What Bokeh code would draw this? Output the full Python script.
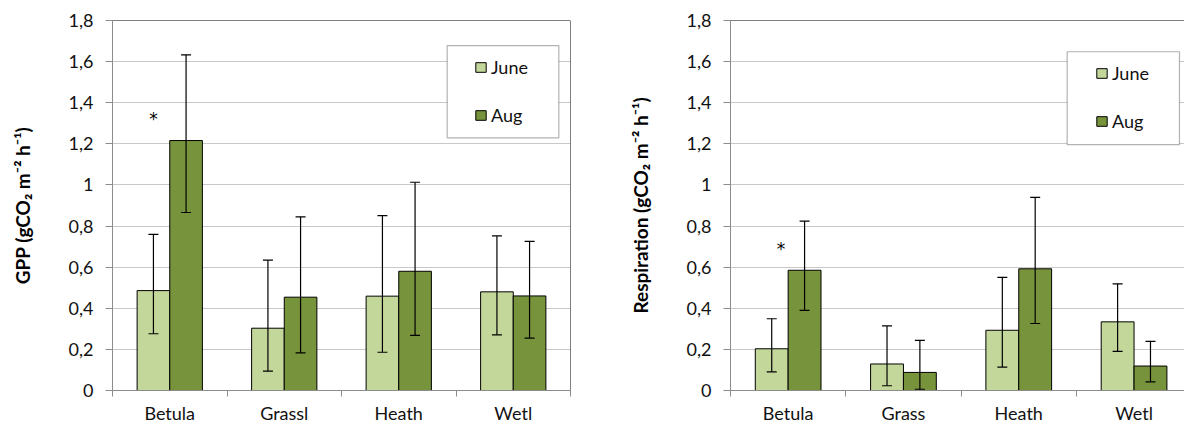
from bokeh.plotting import figure
from bokeh.models import (ColumnDataSource, FixedTicker, Whisker, TeeHead, Legend,
                          LegendItem, Span, BoxAnnotation)
from bokeh.layouts import row
from bokeh.embed import file_html
from bokeh.resources import INLINE
from bokeh.core.properties import value

# ---------------- data ----------------
categories_gpp = ["Betula", "Grassl", "Heath", "Wetl"]
categories_resp = ["Betula", "Grass", "Heath", "Wetl"]
series_names = ["June", "Aug"]

gpp_june = [0.486, 0.303, 0.459, 0.480]
gpp_june_lo = [0.276, 0.094, 0.186, 0.271]
gpp_june_hi = [0.760, 0.634, 0.851, 0.752]
gpp_aug = [1.216, 0.454, 0.580, 0.460]
gpp_aug_lo = [0.866, 0.183, 0.268, 0.255]
gpp_aug_hi = [1.633, 0.845, 1.013, 0.725]

resp_june = [0.203, 0.129, 0.293, 0.334]
resp_june_lo = [0.091, 0.023, 0.114, 0.190]
resp_june_hi = [0.349, 0.314, 0.550, 0.519]
resp_aug = [0.585, 0.088, 0.592, 0.119]
resp_aug_lo = [0.390, 0.006, 0.326, 0.042]
resp_aug_hi = [0.824, 0.244, 0.940, 0.239]

y_ticks = [0, 0.2, 0.4, 0.6, 0.8, 1, 1.2, 1.4, 1.6, 1.8]
y_tick_labels = ["0", "0,2", "0,4", "0,6", "0,8", "1", "1,2", "1,4", "1,6", "1,8"]

# significance markers: (category, value)
star_gpp = ("Betula", 1.32)
star_resp = ("Betula", 0.69)

# ---------------- style ----------------
FONT = "Lato"
C_JUNE = "#c4d79b"
C_AUG = "#77933c"
AXIS_C = "#8c8c8c"
GRID_C = "#c8c8c8"
BAR_W = 0.285


def build(cats, june, jlo, jhi, aug, alo, ahi, ylabel, x_end, width,
          b_left, b_right, b_bottom, x_standoff, legend_loc, box, star, star_dx):
    n = len(cats)
    centers = [i + 0.5 for i in range(n)]
    p = figure(width=width, height=426, x_range=(0, x_end), y_range=(0, 1.8),
               output_backend="svg", toolbar_location=None,
               min_border_left=b_left, min_border_right=b_right,
               min_border_top=20, min_border_bottom=b_bottom)
    p.outline_line_color = None
    p.background_fill_color = "white"
    p.border_fill_color = "white"

    src_j = ColumnDataSource(dict(x=[c - BAR_W / 2 for c in centers], top=june,
                                  lo=jlo, hi=jhi))
    src_a = ColumnDataSource(dict(x=[c + BAR_W / 2 for c in centers], top=aug,
                                  lo=alo, hi=ahi))
    rj = p.vbar(x="x", top="top", bottom=0, width=BAR_W, source=src_j,
                fill_color=C_JUNE, line_color="black", line_width=1)
    ra = p.vbar(x="x", top="top", bottom=0, width=BAR_W, source=src_a,
                fill_color=C_AUG, line_color="black", line_width=1)

    for src in (src_j, src_a):
        w = Whisker(source=src, base="x", upper="hi", lower="lo",
                    line_color="black", line_width=1.2, level="annotation",
                    upper_head=TeeHead(size=10, line_color="black", line_width=1.2),
                    lower_head=TeeHead(size=10, line_color="black", line_width=1.2))
        p.add_layout(w)

    # significance asterisk
    si = cats.index(star[0])
    p.text(x=[centers[si] - BAR_W / 2 + star_dx], y=[star[1]], text=["*"],
           text_font=value("DejaVu Sans"), text_font_size="17px", text_color="black",
           text_align="center", text_baseline="middle")

    # borders of the plot area (top, and right where visible)
    p.add_layout(Span(location=1.8, dimension="width", line_color="black", line_width=1))
    if x_end >= 4:
        p.add_layout(Span(location=4, dimension="height", line_color="black", line_width=1))

    # grid
    p.xgrid.visible = False
    p.ygrid.ticker = FixedTicker(ticks=y_ticks)
    p.ygrid.grid_line_color = GRID_C
    p.ygrid.grid_line_width = 1

    # y axis
    ya = p.yaxis[0]
    ya.ticker = FixedTicker(ticks=y_ticks)
    ya.major_label_overrides = {t: l for t, l in zip(y_ticks, y_tick_labels)}
    ya.axis_line_color = AXIS_C
    ya.major_tick_line_color = AXIS_C
    ya.major_tick_out = 7
    ya.major_tick_in = 0
    ya.minor_tick_line_color = None
    ya.major_label_standoff = 12
    ya.major_label_text_font = FONT
    ya.major_label_text_font_size = "18px"
    ya.major_label_text_color = "#111111"
    ya.axis_label = ylabel
    ya.axis_label_text_font = FONT
    ya.axis_label_text_font_size = "19px"
    ya.axis_label_text_font_style = "bold"
    ya.axis_label_text_color = "black"
    ya.axis_label_standoff = 32

    # x axis
    xa = p.xaxis[0]
    xa.axis_label = None
    xa.ticker = FixedTicker(ticks=centers, minor_ticks=list(range(n + 1)))
    xa.major_label_overrides = {c: name for c, name in zip(centers, cats)}
    xa.axis_line_color = AXIS_C
    xa.major_tick_line_color = None
    xa.major_tick_out = 0
    xa.major_tick_in = 0
    xa.minor_tick_line_color = AXIS_C
    xa.minor_tick_out = 6
    xa.minor_tick_in = 0
    xa.major_label_standoff = x_standoff
    xa.major_label_text_font = FONT
    xa.major_label_text_font_size = "18px"
    xa.major_label_text_color = "#111111"

    # legend frame and legend
    p.add_layout(BoxAnnotation(left=box[0], right=box[1], bottom=box[2], top=box[3],
                               fill_color="white", fill_alpha=1,
                               line_color="black", line_width=1.2,
                               level="annotation"))
    legend = Legend(items=[LegendItem(label=series_names[0], renderers=[rj]),
                           LegendItem(label=series_names[1], renderers=[ra])],
                    location=legend_loc, orientation="vertical",
                    padding=0, spacing=26, margin=0,
                    glyph_width=13, glyph_height=12, label_height=20,
                    label_standoff=4, border_line_color=None,
                    background_fill_alpha=0,
                    label_text_font=FONT, label_text_font_size="18px",
                    label_text_color="#111111")
    p.add_layout(legend, "center")
    return p


p1 = build(categories_gpp, gpp_june, gpp_june_lo, gpp_june_hi,
           gpp_aug, gpp_aug_lo, gpp_aug_hi,
           "GPP (gCO\u2082 m\u207b\u00b2 h\u207b\u00b9)",
           4, 590, 112, 20, 36, 5, (362, 264), (2.923, 3.898, 1.229, 1.678),
           star_gpp, 0.0)
p2 = build(categories_resp, resp_june, resp_june_lo, resp_june_hi,
           resp_aug, resp_aug_lo, resp_aug_hi,
           "Respiration (gCO\u2082 m\u207b\u00b2 h\u207b\u00b9)",
           454 / 115.3, 594, 140, 0, 36, 5, (365, 258), (2.920, 3.894, 1.196, 1.648),
           star_resp, 0.08)

layout = row(p1, p2)
open("out.html", "w").write(file_html(layout, INLINE))
